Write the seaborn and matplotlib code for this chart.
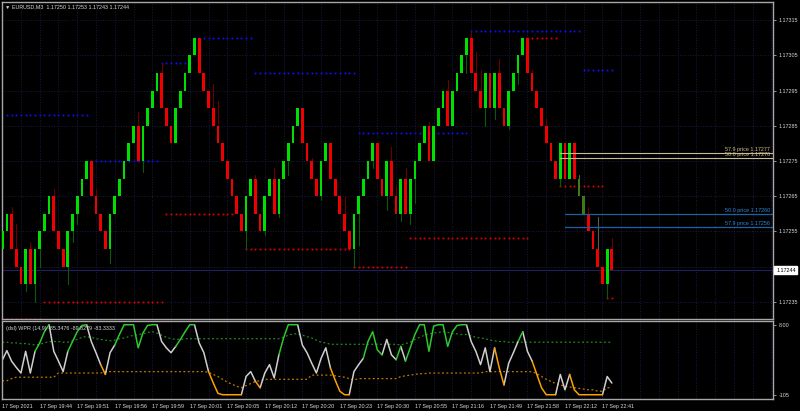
import numpy as np
import pandas as pd
import matplotlib
matplotlib.use("Agg")
import matplotlib.pyplot as plt
import matplotlib.transforms as mtrans
import seaborn as sns

# ---- renko bricks, EURUSD M3 (close of every brick, first brick opens at 1.17250)
first_open = 1.17250
closes = [1.17255, 1.17260, 1.17250, 1.17245, 1.17240, 1.17250, 1.17240, 1.17250, 1.17255, 1.17260,
          1.17265, 1.17255, 1.17250, 1.17245, 1.17255, 1.17260, 1.17265, 1.17270, 1.17275, 1.17265,
          1.17260, 1.17255, 1.17250, 1.17260, 1.17265, 1.17270, 1.17275, 1.17280, 1.17285, 1.17275,
          1.17285, 1.17290, 1.17295, 1.17300, 1.17290, 1.17285, 1.17280, 1.17290, 1.17295, 1.17300,
          1.17305, 1.17310, 1.17300, 1.17295, 1.17290, 1.17285, 1.17280, 1.17275, 1.17270, 1.17265,
          1.17260, 1.17255, 1.17265, 1.17270, 1.17260, 1.17255, 1.17265, 1.17270, 1.17260, 1.17270,
          1.17275, 1.17280, 1.17285, 1.17290, 1.17280, 1.17275, 1.17270, 1.17265, 1.17275, 1.17280,
          1.17270, 1.17265, 1.17260, 1.17255, 1.17250, 1.17260, 1.17265, 1.17270, 1.17275, 1.17280,
          1.17270, 1.17265, 1.17275, 1.17265, 1.17260, 1.17270, 1.17260, 1.17270, 1.17275, 1.17280,
          1.17285, 1.17275, 1.17285, 1.17290, 1.17295, 1.17285, 1.17295, 1.17300, 1.17305, 1.17310,
          1.17300, 1.17295, 1.17290, 1.17300, 1.17290, 1.17300, 1.17290, 1.17285, 1.17295, 1.17300,
          1.17305, 1.17310, 1.17300, 1.17295, 1.17290, 1.17285, 1.17280, 1.17275, 1.17270, 1.17280,
          1.17270, 1.17280, 1.17270, 1.17265, 1.17260, 1.17255, 1.17250, 1.17245, 1.17240, 1.17250,
          1.17244]
dim_bricks = [124, 125]

# visible wicks: brick number and wick end price
wick_bars = [3, 4, 6, 7, 8, 9, 12, 15, 16, 17, 21, 24, 30, 31, 35, 46, 47, 53, 55, 57, 59, 60,
             62, 67, 69, 74, 76, 77, 80, 83, 84, 85, 86, 87, 88, 89, 92, 96, 100, 101, 102, 103,
             104, 106, 107, 109, 111, 114, 117, 120, 124, 126, 128, 130, 131]
wick_ends = [1.17262, 1.17257, 1.17238, 1.17252, 1.17235, 1.17245, 1.17267, 1.17240, 1.17252,
             1.17257, 1.17267, 1.17246, 1.17289, 1.17272, 1.17303, 1.17297, 1.17292, 1.17250,
             1.17271, 1.17254, 1.17273, 1.17259, 1.17271, 1.17276, 1.17264, 1.17265, 1.17245,
             1.17251, 1.17273, 1.17261, 1.17279, 1.17268, 1.17258, 1.17273, 1.17257, 1.17263,
             1.17286, 1.17298, 1.17300, 1.17312, 1.17306, 1.17301, 1.17285, 1.17287, 1.17304,
             1.17284, 1.17297, 1.17301, 1.17287, 1.17268, 1.17271, 1.17262, 1.17259, 1.17236,
             1.17253]

# dotted resistance / support levels
blue_lvl = [1.17288, 1.17275, 1.17303, 1.17310, 1.17300, 1.17283, 1.17312, 1.17301]
blue_from = [2, 20, 35, 42, 55, 77, 101, 125]
blue_to = [19, 34, 41, 54, 76, 100, 124, 131]
red_lvl = [1.17230, 1.17235, 1.17260, 1.17250, 1.17245, 1.17253, 1.17310, 1.17268, 1.17236]
red_from = [2, 10, 36, 53, 76, 88, 113, 120, 130]
red_to = [9, 35, 50, 75, 87, 113, 119, 129, 131]

# fibo levels
fib_gold = [1.172774, 1.172760]
fib_gold_txt = ["57.9 price 1.17277", "50.0 price 1.17276"]
fib_blue = [1.172600, 1.172562]
fib_blue_txt = ["50.0 price 1.17260", "57.9 price 1.17256"]
fib_from = [120, 120, 121, 121]

price_ticks = [1.17235, 1.17245, 1.17255, 1.17265, 1.17275, 1.17285, 1.17295, 1.17305, 1.17315]
last_price = 1.17244
time_labels = ["17 Sep 2021", "17 Sep 19:44", "17 Sep 19:51", "17 Sep 19:56", "17 Sep 19:59",
               "17 Sep 20:01", "17 Sep 20:05", "17 Sep 20:12", "17 Sep 20:20", "17 Sep 20:23",
               "17 Sep 20:30", "17 Sep 20:55", "17 Sep 21:16", "17 Sep 21:49", "17 Sep 21:58",
               "17 Sep 22:12", "17 Sep 22:41"]

# ---- (dsl) WPR(14,9)
wpr = [-51, -37, -52, -61, -69, -38, -69, -38, -26, -10, 0, -38, -52, -67, -38, -24, -10, -1, 0, -24,
       -40, -57, -71, -40, -29, -14, 0, 0, 0, -33, -12, -1, 0, 0, -24, -33, -40, -31, -21, -10,
       0, 0, -26, -40, -67, -83, -98, -100, -100, -100, -100, -100, -74, -67, -81, -90, -69, -57, -76, -43,
       -19, 0, 0, 0, -29, -40, -55, -69, -48, -33, -62, -79, -95, -100, -100, -67, -57, -48, -24, -10,
       -36, -43, -21, -43, -50, -31, -52, -33, -14, 0, 0, -38, -2, 0, 0, -31, -10, -1, 0, 0,
       -24, -38, -57, -33, -67, -33, -62, -86, -55, -40, -24, -10, -38, -52, -71, -90, -100, -100, -100, -71,
       -93, -71, -93, -100, -100, -100, -100, -100, -100, -74, -83.3333]
wpr_state = list("wwwwwwwwgggwwwwggggwwwowwgggggggggwwwwggggwwwooooooowwwowwwwggggwwwwwww"
                 "oooowwwggggwwwgwgggggggggggggwwwwwwoowwwgwwooooowwwooooooowww")
lvl_up = [-25, -25, -26, -26, -27, -27, -28, -29, -28, -26, -24, -24, -24, -25, -25, -23, -21, -18, -17, -18,
          -20, -21, -22, -23, -22, -20, -19, -17, -15, -14, -13, -11, -10, -12, -15, -18, -20, -21, -21, -20,
          -20, -20, -20, -20, -20, -20, -20, -20, -20, -20, -20, -20, -20, -20, -20, -20, -20, -20, -20, -20,
          -18, -15, -13, -13, -15, -17, -19, -22, -25, -26, -28, -28, -28, -28, -28, -28, -28, -28, -28, -28,
          -28, -28, -28, -28, -28, -29, -27, -25, -21, -18, -15, -13, -12, -11, -10, -11, -12, -13, -14, -14,
          -16, -18, -19, -20, -22, -23, -24, -24, -25, -25, -25, -25, -25, -25, -25, -25, -25, -25, -25, -25,
          -25, -25, -25, -25, -25, -25, -25, -25, -25, -25, -25]
lvl_dn = [-80, -80, -77, -75, -75, -75, -75, -75, -75, -75, -75, -75, -69, -69, -69, -69, -69, -69, -69, -69,
          -69, -69, -67, -67, -67, -67, -67, -67, -67, -67, -67, -67, -67, -67, -67, -67, -67, -67, -67, -67,
          -67, -67, -67, -67, -68, -71, -74, -78, -82, -85, -88, -90, -87, -84, -81, -80, -78, -78, -78, -78,
          -78, -78, -78, -78, -78, -78, -72, -72, -72, -72, -72, -73, -74, -75, -77, -79, -77, -77, -77, -77,
          -77, -77, -77, -77, -77, -74, -73, -72, -71, -70, -70, -69, -69, -69, -69, -69, -69, -69, -69, -69,
          -69, -69, -69, -67, -67, -67, -67, -67, -67, -67, -67, -67, -67, -67, -70, -74, -78, -81, -84, -86,
          -88, -89, -90, -91, -92, -93, -93, -95, -95, -90, -90]
wpr_text = "(dsl) WPR (14,9) -85.3476 -89.8279 -83.3333"

# ---- style
sns.set_theme(style="dark", rc={"axes.facecolor": "black", "figure.facecolor": "black",
                                "axes.edgecolor": "#a0a0a0", "grid.color": "#1a1a44",
                                "grid.linestyle": ":", "grid.linewidth": 0.7})
plt.rcParams["font.family"] = ["Liberation Sans", "DejaVu Sans"]
fs = 3.9
txt_col = "#d8d8d8"

fig = plt.figure(figsize=(8, 4.11), dpi=100)
ax = fig.add_axes([2 / 800, 92 / 411, 771 / 800, 317 / 411])
ax2 = fig.add_axes([2 / 800, 12 / 411, 771 / 800, 78 / 411])

bars = np.arange(1, len(closes) + 1)
opens = [first_open] + closes[:-1]
xmin, xmax = 0.96, 165.36

# ---- bricks
cols = []
for b, o, c in zip(bars, opens, closes):
    if b in dim_bricks:
        cols.append("#3d7a1a")
    elif c > o:
        cols.append("#00e000")
    else:
        cols.append("#f00000")
for b, w in zip(wick_bars, wick_ends):
    o, c = opens[b - 1], closes[b - 1]
    edge = max(o, c) if w > max(o, c) else min(o, c)
    if b in dim_bricks or b == 128:
        wc = "#5a5a5a"
    elif c > o:
        wc = "#0b5a0b"
    else:
        wc = "#6a0000"
    ax.plot([b, b], [edge, w], color=wc, lw=0.8, zorder=2)
ax.bar(bars, np.array(closes) - np.array(opens), bottom=opens, width=0.58,
       color=cols, linewidth=0, zorder=3)

for lv, a, z in zip(blue_lvl, blue_from, blue_to):
    xs = np.arange(a, z + 1)
    ax.plot(xs, [lv] * len(xs), ls="none", marker="s", ms=1.3, mew=0, color="#1010ff", zorder=1.5)
for lv, a, z in zip(red_lvl, red_from, red_to):
    xs = np.arange(a, z + 1)
    ax.plot(xs, [lv] * len(xs), ls="none", marker="s", ms=1.3, mew=0, color="#e00000", zorder=1.5)

# fibo lines
trans = mtrans.blended_transform_factory(ax.transAxes, ax.transData)
for lv, t, a in zip(fib_gold, fib_gold_txt, fib_from[:2]):
    ax.plot([a, xmax], [lv, lv], color="#c8bc96", lw=0.8, zorder=4)
    ax.text(0.996, lv + 0.0000025, t, transform=trans, ha="right", va="bottom",
            fontsize=fs, color="#d2c28e", zorder=5)
for lv, t, a in zip(fib_blue, fib_blue_txt, fib_from[2:]):
    ax.plot([a, xmax], [lv, lv], color="#1d62a0", lw=0.9, zorder=4)
    ax.text(0.996, lv + 0.0000025, t, transform=trans, ha="right", va="bottom",
            fontsize=fs, color="#2f8ad8", zorder=5)

ax.axhline(last_price, color="#202060", lw=0.8, zorder=0.5)

# axes / grid
grid_x = np.arange(1, 166, 4)
lab_x = np.arange(1, 166, 8)
labels = time_labels + [""] * (len(lab_x) - len(time_labels))
for a in (ax, ax2):
    a.set_xlim(xmin, xmax)
    a.set_xticks(lab_x)
    a.set_xticks(grid_x, minor=True)
    a.grid(True, which="both", axis="x")
    for s in a.spines.values():
        s.set_color("#a8a8a8")
        s.set_linewidth(1.0)

ax.set_ylim(1.172301, 1.173202)
ax.set_yticks(price_ticks)
# the 1.17245 label sits under the current price box
ax.set_yticklabels(["" if abs(p - 1.17245) < 1e-7 else f"{p:.5f}" for p in price_ticks])
ax.grid(True, axis="y")
ax.yaxis.tick_right()
ax.tick_params(axis="y", colors="#a8a8a8", labelcolor=txt_col, labelsize=fs, length=2.5, width=0.6, pad=1.5)
ax.tick_params(axis="x", which="both", length=0, labelbottom=False)

ax.text(1.004, last_price, f"{last_price:.5f}", transform=trans, ha="left", va="center",
        fontsize=fs, color="black", zorder=6,
        bbox=dict(boxstyle="square,pad=0.3", fc="white", ec="white"))
ax.text(0.004, 0.992, "▼ EURUSD,M3  1.17250 1.17253 1.17243 1.17244", transform=ax.transAxes,
        ha="left", va="top", fontsize=fs, color=txt_col)

# ---- WPR panel
rows = []
run, prev = 0, None
for i in range(1, len(wpr)):
    st = wpr_state[i]
    if st != prev:
        run += 1
        rows.append((bars[i - 1], wpr[i - 1], st, run))
    rows.append((bars[i], wpr[i], st, run))
    prev = st
seg = pd.DataFrame(rows, columns=["bar", "wpr", "state", "run"])

sns.lineplot(x=bars, y=lvl_up, color="#1e8c1e", lw=0.9, ls=(0, (1.5, 2)), ax=ax2)
sns.lineplot(x=bars, y=lvl_dn, color="#c27800", lw=0.9, ls=(0, (1.5, 2)), ax=ax2)
sns.lineplot(data=seg, x="bar", y="wpr", hue="state", units="run", estimator=None, sort=False,
             palette={"w": "#cfcfcf", "g": "#2fc82f", "o": "#ffa000"}, legend=False, lw=1.1, ax=ax2)

ax2.set_ylim(-106.1, 5.3)
ax2.set_yticks([0, -100])
ax2.set_yticklabels(["8.00", "-105"])
ax2.yaxis.tick_right()
ax2.grid(False, axis="y")
ax2.set_xlabel("")
ax2.set_ylabel("")
ax2.tick_params(axis="y", colors="#a8a8a8", labelcolor=txt_col, labelsize=fs, length=2.5, width=0.6, pad=1.5)
ax2.tick_params(axis="x", which="major", colors="#a8a8a8", labelcolor=txt_col, labelsize=fs,
                length=2.5, width=0.6, pad=1)
ax2.tick_params(axis="x", which="minor", length=0)
ax2.set_xticklabels(labels)
for t in ax2.get_xticklabels():
    t.set_ha("left")
ax2.text(0.005, 0.93, wpr_text, transform=ax2.transAxes, ha="left", va="top",
         fontsize=fs, color=txt_col, zorder=6)

fig.savefig("out.png", dpi=100, facecolor="black")
